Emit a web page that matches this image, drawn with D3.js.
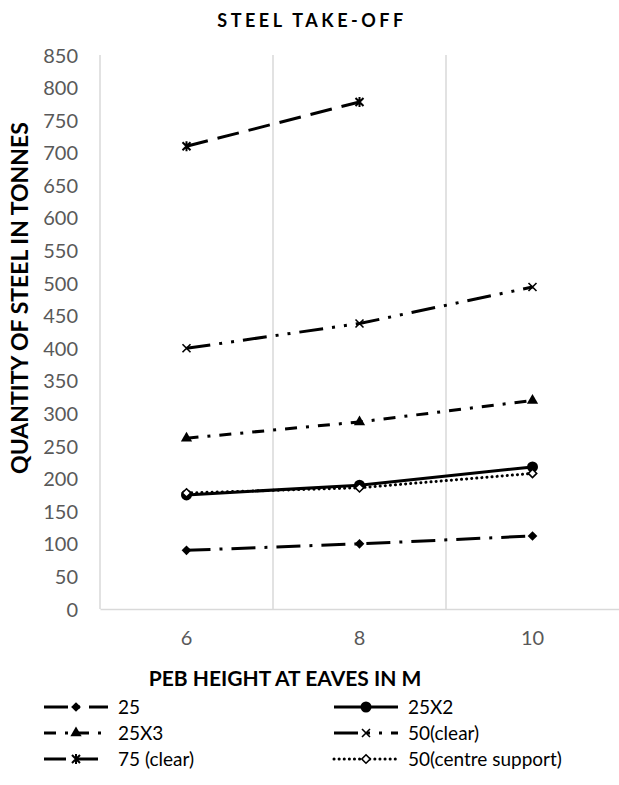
<!DOCTYPE html>
<html>
<head>
<meta charset="utf-8">
<script src="https://cdn.jsdelivr.net/npm/d3@7"></script>
<style>
  body { margin: 0; background: #fff; }
  text { font-family: Lato, "Open Sans", sans-serif; }
</style>
</head>
<body>
<div id="chart"></div>
<script>
// heights (categories) and series values
var heights = ["6", "8", "10"];
var yTicks = d3.range(0, 851, 50);

var s25 = [90, 100, 112];
var s25x2 = [175, 190, 218];
var s25x3 = [262, 287, 320];
var s50clear = [400, 438, 494];
var s75clear = [710, 778, null];
var s50centre = [178, 186, 208];

var seriesNames = ["25", "25X2", "25X3", "50(clear)", "75 (clear)", "50(centre support)"];

var width = 619,
    height = 785;
var margin = {top: 55, right: 0, bottom: 176, left: 100};

var series = [
    {name: seriesNames[0], values: s25, dash: "24,9,3,9", marker: "diamond"},
    {name: seriesNames[1], values: s25x2, dash: null, marker: "circle"},
    {name: seriesNames[2], values: s25x3, dash: "12,9,3,9", marker: "triangle"},
    {name: seriesNames[3], values: s50clear, dash: "24,9,3,9,3,9", marker: "x"},
    {name: seriesNames[4], values: s75clear, dash: "22,10", marker: "star"},
    {name: seriesNames[5], values: s50centre, dash: "0.1,5", marker: "diamondOpen"}
];

var svg = d3.select("#chart").append("svg")
    .attr("width", width)
    .attr("height", height);

var x = d3.scaleBand()
    .domain(heights)
    .range([margin.left, width - margin.right]);

var y = d3.scaleLinear()
    .domain([0, 850])
    .range([height - margin.bottom, margin.top]);

// vertical gridlines at category boundaries
svg.append("g")
    .selectAll("line")
    .data(heights)
    .enter().append("line")
    .attr("x1", function (d) { return x(d); })
    .attr("x2", function (d) { return x(d); })
    .attr("y1", y(850))
    .attr("y2", y(0))
    .attr("stroke", "#d9d9d9")
    .attr("stroke-width", 1.5);

// x axis
var xAxis = svg.append("g")
    .attr("transform", "translate(0," + y(0) + ")")
    .call(d3.axisBottom(x).tickSize(0).tickPadding(22));
xAxis.select(".domain").attr("stroke", "#d9d9d9").attr("stroke-width", 1.5);
xAxis.selectAll("text")
    .attr("fill", "#595959")
    .style("font-size", "20px");

// y axis labels (no line)
var yAxis = svg.append("g")
    .attr("transform", "translate(" + margin.left + ",0)")
    .call(d3.axisLeft(y).tickValues(yTicks).tickSize(0).tickPadding(22));
yAxis.select(".domain").remove();
yAxis.selectAll("text")
    .attr("fill", "#595959")
    .attr("dy", "0.35em")
    .style("font-size", "20px");

// titles
svg.append("text")
    .attr("x", 312)
    .attr("y", 27)
    .attr("text-anchor", "middle")
    .style("font-size", "18px")
    .style("font-weight", "bold")
    .style("letter-spacing", "3.5px")
    .text("STEEL TAKE-OFF");

svg.append("text")
    .attr("x", 285)
    .attr("y", 686)
    .attr("text-anchor", "middle")
    .style("font-size", "21px")
    .style("font-weight", "bold")
    .text("PEB HEIGHT AT EAVES IN M");

svg.append("text")
    .attr("transform", "translate(28,298) rotate(-90)")
    .attr("text-anchor", "middle")
    .style("font-size", "23px")
    .style("font-weight", "bold")
    .text("QUANTITY OF STEEL IN TONNES");

function drawMarker(g, type) {
    if (type === "diamond") {
        g.append("path").attr("d", d3.symbol(d3.symbolDiamond2, 60)())
            .attr("fill", "#000");
    } else if (type === "circle") {
        g.append("circle").attr("r", 5.5).attr("fill", "#000");
    } else if (type === "triangle") {
        g.append("path").attr("d", d3.symbol(d3.symbolTriangle, 55)())
            .attr("fill", "#000");
    } else if (type === "x") {
        g.append("path").attr("d", "M-4,-4L4,4M-4,4L4,-4")
            .attr("stroke", "#000").attr("stroke-width", 1.6).attr("fill", "none");
    } else if (type === "star") {
        g.append("path").attr("d", "M-4,-4L4,4M-4,4L4,-4M0,-5L0,5")
            .attr("stroke", "#000").attr("stroke-width", 2).attr("fill", "none");
    } else if (type === "diamondOpen") {
        g.append("path").attr("d", d3.symbol(d3.symbolDiamond2, 45)())
            .attr("fill", "#fff").attr("stroke", "#000").attr("stroke-width", 1.6);
    }
}

var line = d3.line()
    .defined(function (d) { return d != null; })
    .x(function (d, i) { return x(heights[i]) + x.bandwidth() / 2; })
    .y(function (d) { return y(d); });

series.forEach(function (s) {
    var g = svg.append("g");
    g.append("path")
        .datum(s.values)
        .attr("d", line)
        .attr("fill", "none")
        .attr("stroke", "#000")
        .attr("stroke-width", 3)
        .attr("stroke-linecap", s.dash === "0.1,5" ? "round" : "butt")
        .attr("stroke-dasharray", s.dash);
    s.values.forEach(function (v, i) {
        if (v == null) return;
        var m = g.append("g")
            .attr("transform", "translate(" + (x(heights[i]) + x.bandwidth() / 2) + "," + y(v) + ")");
        drawMarker(m, s.marker);
    });
});

// legend
var legendPos = [
    {x: 44, y: 707}, {x: 334, y: 707},
    {x: 44, y: 733}, {x: 334, y: 733},
    {x: 44, y: 759}, {x: 334, y: 759}
];

series.forEach(function (s, i) {
    var p = legendPos[i];
    var lg = svg.append("g").attr("transform", "translate(" + p.x + "," + p.y + ")");
    lg.append("line")
        .attr("x1", 0).attr("x2", 64)
        .attr("stroke", "#000")
        .attr("stroke-width", 3)
        .attr("stroke-linecap", s.dash === "0.1,5" ? "round" : "butt")
        .attr("stroke-dasharray", s.dash);
    drawMarker(lg.append("g").attr("transform", "translate(32,0)"), s.marker);
    lg.append("text")
        .attr("x", 74)
        .attr("dy", "0.35em")
        .style("font-size", "19px")
        .attr("fill", "#000")
        .text(s.name);
});
</script>
</body>
</html>
